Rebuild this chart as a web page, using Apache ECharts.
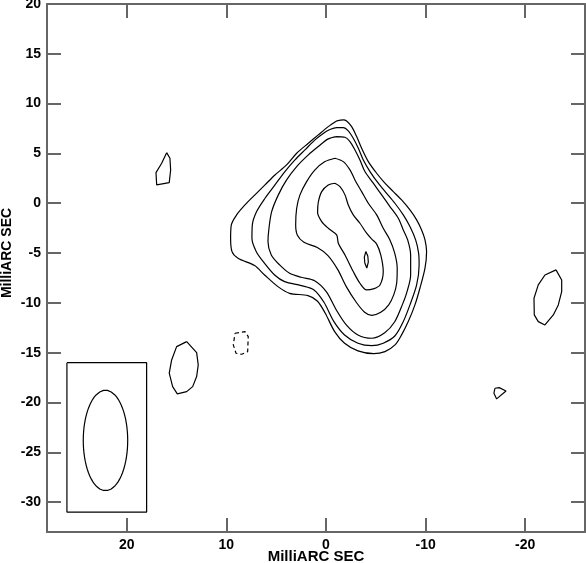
<!DOCTYPE html>
<html>
<head>
<meta charset="utf-8">
<script src="https://cdn.jsdelivr.net/npm/echarts@6/dist/echarts.min.js"></script>
<style>
  html, body { margin: 0; padding: 0; background: #fff; }
  #chart { width: 586px; height: 563px; }
</style>
</head>
<body>
<div id="chart"></div>
<script>
// axis ranges and ticks (milliarcsec)
var xRange = [-26, 28];
var yRange = [-33, 20];
var xTicks = [-20, -10, 0, 10, 20];
var yTicks = [-30, -25, -20, -15, -10, -5, 0, 5, 10, 15, 20];

// contour levels of the main source, outer to inner, [x, y] in mas
var contour1 = [[-1.07, 8.26], [-1.74, 8.36], [-2.07, 8.26], [-2.58, 7.69], [-3.08, 6.69], [-3.58, 5.52], [-4.25, 4.18], [-5.09, 3.01], [-5.92, 2.01], [-6.76, 1.17], [-7.59, 0.33], [-8.43, -0.67], [-9.1, -1.67], [-9.6, -2.68], [-9.94, -3.68], [-10.1, -4.85], [-9.94, -6.52], [-9.43, -8.53], [-8.93, -10.2], [-8.26, -11.88], [-7.59, -13.21], [-6.93, -14.22], [-5.92, -14.89], [-4.8, -15.1], [-3.21, -14.82], [-1.87, -14.05], [-0.87, -12.88], [0.07, -11.04], [0.87, -9.81], [1.81, -9.27], [3.65, -9.04], [4.82, -8.37], [6.16, -7.2], [7.16, -6.26], [8.83, -5.52], [9.43, -4.86], [9.57, -3.52], [9.5, -2.18], [8.97, -1.17], [8.13, -0.17], [7.13, 0.84], [6.12, 1.84], [5.12, 2.84], [3.95, 3.85], [2.94, 5.02], [1.77, 6.02], [0.77, 6.86], [-0.23, 7.69], [-1.07, 8.26]];
var contour2 = [[-0.4, 7.4], [-1.07, 7.59], [-1.74, 7.59], [-2.24, 7.26], [-2.74, 6.52], [-3.25, 5.52], [-3.75, 4.35], [-4.42, 3.18], [-5.25, 2.01], [-6.09, 1.0], [-6.92, 0.0], [-7.76, -1.17], [-8.43, -2.34], [-9.0, -3.68], [-9.3, -5.0], [-9.35, -6.19], [-9.1, -8.2], [-8.43, -10.2], [-7.76, -11.88], [-6.93, -13.3], [-5.75, -14.05], [-4.6, -14.3], [-3.21, -14.05], [-1.87, -13.22], [-0.8, -11.88], [0.2, -9.94], [1.2, -8.7], [2.48, -8.27], [4.15, -7.87], [5.15, -7.2], [6.16, -6.03], [6.99, -4.86], [7.43, -3.52], [7.39, -2.17], [6.96, -0.84], [6.12, 0.5], [5.12, 1.84], [4.12, 3.18], [3.11, 4.35], [2.11, 5.35], [1.1, 6.36], [0.1, 7.13], [-0.4, 7.4]];
var contour3 = [[-1.07, 6.69], [-1.91, 6.62], [-2.41, 6.19], [-2.91, 5.35], [-3.41, 4.35], [-3.91, 3.18], [-4.75, 2.01], [-5.59, 0.84], [-6.42, -0.33], [-7.26, -1.51], [-7.76, -2.68], [-8.2, -3.68], [-8.5, -5.2], [-8.5, -7.2], [-8.1, -9.0], [-7.66, -10.2], [-6.9, -11.9], [-5.9, -13.0], [-4.6, -13.55], [-3.21, -13.22], [-2.04, -12.21], [-1.04, -10.71], [-0.03, -8.87], [1.14, -7.77], [2.48, -7.43], [3.65, -7.03], [4.65, -6.19], [5.49, -5.19], [5.82, -3.85], [5.72, -2.51], [5.45, -0.84], [4.78, 0.84], [3.95, 2.34], [2.94, 3.68], [1.77, 4.85], [0.77, 5.69], [-0.23, 6.46], [-1.07, 6.69]];
var contour4 = [[-0.9, 4.52], [-1.74, 4.18], [-2.41, 3.35], [-2.91, 2.34], [-3.58, 1.17], [-4.25, 0.0], [-5.09, -1.17], [-5.75, -2.51], [-6.42, -3.68], [-6.9, -5.0], [-7.15, -6.5], [-7.1, -8.0], [-6.8, -9.2], [-6.3, -10.2], [-5.5, -10.95], [-4.6, -11.25], [-3.88, -10.94], [-3.04, -9.94], [-2.04, -8.37], [-1.2, -6.69], [-0.2, -5.26], [0.87, -4.45], [2.21, -3.92], [2.88, -3.18], [3.04, -2.17], [2.94, -0.5], [2.61, 0.84], [1.94, 2.17], [1.1, 3.35], [0.1, 4.18], [-0.9, 4.52]];
var contour5 = [[-0.9, 2.01], [-1.41, 1.67], [-1.91, 0.84], [-2.24, -0.17], [-2.74, -1.17], [-3.41, -2.01], [-4.08, -3.01], [-4.6, -3.6], [-5.09, -4.1], [-5.5, -5.19], [-5.75, -6.86], [-5.42, -8.2], [-4.75, -8.6], [-4.08, -8.7], [-3.41, -8.03], [-2.74, -6.86], [-1.91, -5.19], [-1.24, -4.01], [-1.07, -3.18], [-0.23, -2.51], [0.43, -1.84], [0.84, -0.9], [0.77, 0.1], [0.43, 1.17], [-0.23, 1.84], [-0.9, 2.01]];
var contour6 = [[-4.0, -4.85], [-4.2, -5.3], [-4.25, -5.9], [-4.1, -6.5], [-3.9, -6.0], [-3.85, -5.4], [-4.0, -4.85]];

// isolated lowest-level islands
var blobNE = [[15.99, 5.08], [15.66, 4.52], [15.59, 3.34], [15.73, 2.07], [16.99, 1.84], [17.06, 3.07], [16.49, 4.01], [15.99, 5.08]];
var blobSE = [[13.98, -13.89], [12.98, -15.0], [12.82, -16.23], [12.98, -17.4], [13.38, -18.41], [13.98, -18.91], [14.92, -19.14], [15.39, -18.41], [15.73, -17.06], [15.49, -15.73], [14.99, -14.39], [13.98, -13.89]];
var blobW = [[-23.09, -6.69], [-23.66, -7.7], [-23.66, -8.87], [-23.32, -10.21], [-22.82, -11.21], [-21.98, -12.22], [-21.31, -11.88], [-20.91, -11.21], [-20.88, -9.54], [-21.31, -8.2], [-21.98, -7.2], [-23.09, -6.69]];
var blobSW = [[-16.96, -18.57], [-17.39, -18.51], [-18.07, -18.84], [-17.13, -19.64], [-16.86, -19.07], [-16.96, -18.57]];
// negative contour (dashed)
var negBlob = [[9.13, -13.05], [8.13, -12.89], [7.8, -13.39], [7.86, -14.9], [8.46, -15.16], [9.03, -15.06], [9.3, -14.22], [9.13, -13.05]];

// restoring beam and its box
var beamCenter = [22.13, -23.81];
var beamMajor = 10.08;   // full width, N-S
var beamMinor = 4.46;
var beamBoxX = [18, 26];
var beamBoxY = [-31, -16];

var beamPts = [];
for (var i = 0; i <= 72; i++) {
  var t = i / 72 * 2 * Math.PI;
  beamPts.push([beamCenter[0] + beamMinor / 2 * Math.cos(t), beamCenter[1] + beamMajor / 2 * Math.sin(t)]);
}
var boxPts = [
  [beamBoxX[1], beamBoxY[1]], [beamBoxX[0], beamBoxY[1]],
  [beamBoxX[0], beamBoxY[0]], [beamBoxX[1], beamBoxY[0]],
  [beamBoxX[1], beamBoxY[1]]
];

var axisGrey = '#666';
var font = 'Liberation Sans, Arial, Helvetica, sans-serif';

function line(data, smooth, dashed) {
  return {
    type: 'line',
    data: data,
    showSymbol: false,
    symbol: 'none',
    smooth: smooth,
    silent: true,
    animation: false,
    lineStyle: { color: '#000', width: 1.2, type: dashed ? [4, 3] : 'solid' }
  };
}

function xAx(pos, labels) {
  return {
    type: 'value', position: pos, min: xRange[0], max: xRange[1], inverse: true,
    axisLine: { show: true, onZero: false, lineStyle: { color: axisGrey, width: 2 } },
    axisTick: { show: true, inside: true, length: 14, customValues: xTicks, lineStyle: { color: axisGrey, width: 2 } },
    axisLabel: { show: labels, customValues: xTicks, margin: 6, color: '#000', fontSize: 14, fontWeight: 'bold', fontFamily: font },
    splitLine: { show: false },
    name: labels ? 'MilliARC SEC' : '', nameLocation: 'middle', nameGap: 17, nameMoveOverlap: false,
    nameTextStyle: { color: '#000', fontSize: 15, fontWeight: 'bold', fontFamily: font }
  };
}
function yAx(pos, labels) {
  return {
    type: 'value', position: pos, min: yRange[0], max: yRange[1],
    axisLine: { show: true, onZero: false, lineStyle: { color: axisGrey, width: 2 } },
    axisTick: { show: true, inside: true, length: 14, customValues: yTicks, lineStyle: { color: axisGrey, width: 2 } },
    axisLabel: { show: labels, customValues: yTicks, margin: 6, color: '#000', fontSize: 14, fontWeight: 'bold', fontFamily: font },
    splitLine: { show: false },
    name: labels ? 'MilliARC SEC' : '', nameLocation: 'middle', nameGap: 33, nameMoveOverlap: false,
    nameTextStyle: { color: '#000', fontSize: 14, fontWeight: 'bold', fontFamily: font, padding: [0, 0, 0, 30] }
  };
}

var myChart = echarts.init(document.getElementById('chart'));
var option = {
  animation: false,
  backgroundColor: '#fff',
  grid: { left: 47, right: 1, top: 4, bottom: 31, containLabel: false, outerBoundsMode: 'none' },
  xAxis: [xAx('bottom', true), xAx('top', false)],
  yAxis: [yAx('left', true), yAx('right', false)],
  series: [
    line(contour1, 0.3), line(contour2, 0.3), line(contour3, 0.3),
    line(contour4, 0.3), line(contour5, 0.3), line(contour6, false),
    line(blobNE, false), line(blobSE, false), line(blobW, false), line(blobSW, false),
    line(negBlob, false, true),
    line(boxPts, false), line(beamPts, false)
  ]
};
myChart.setOption(option);
</script>
</body>
</html>
